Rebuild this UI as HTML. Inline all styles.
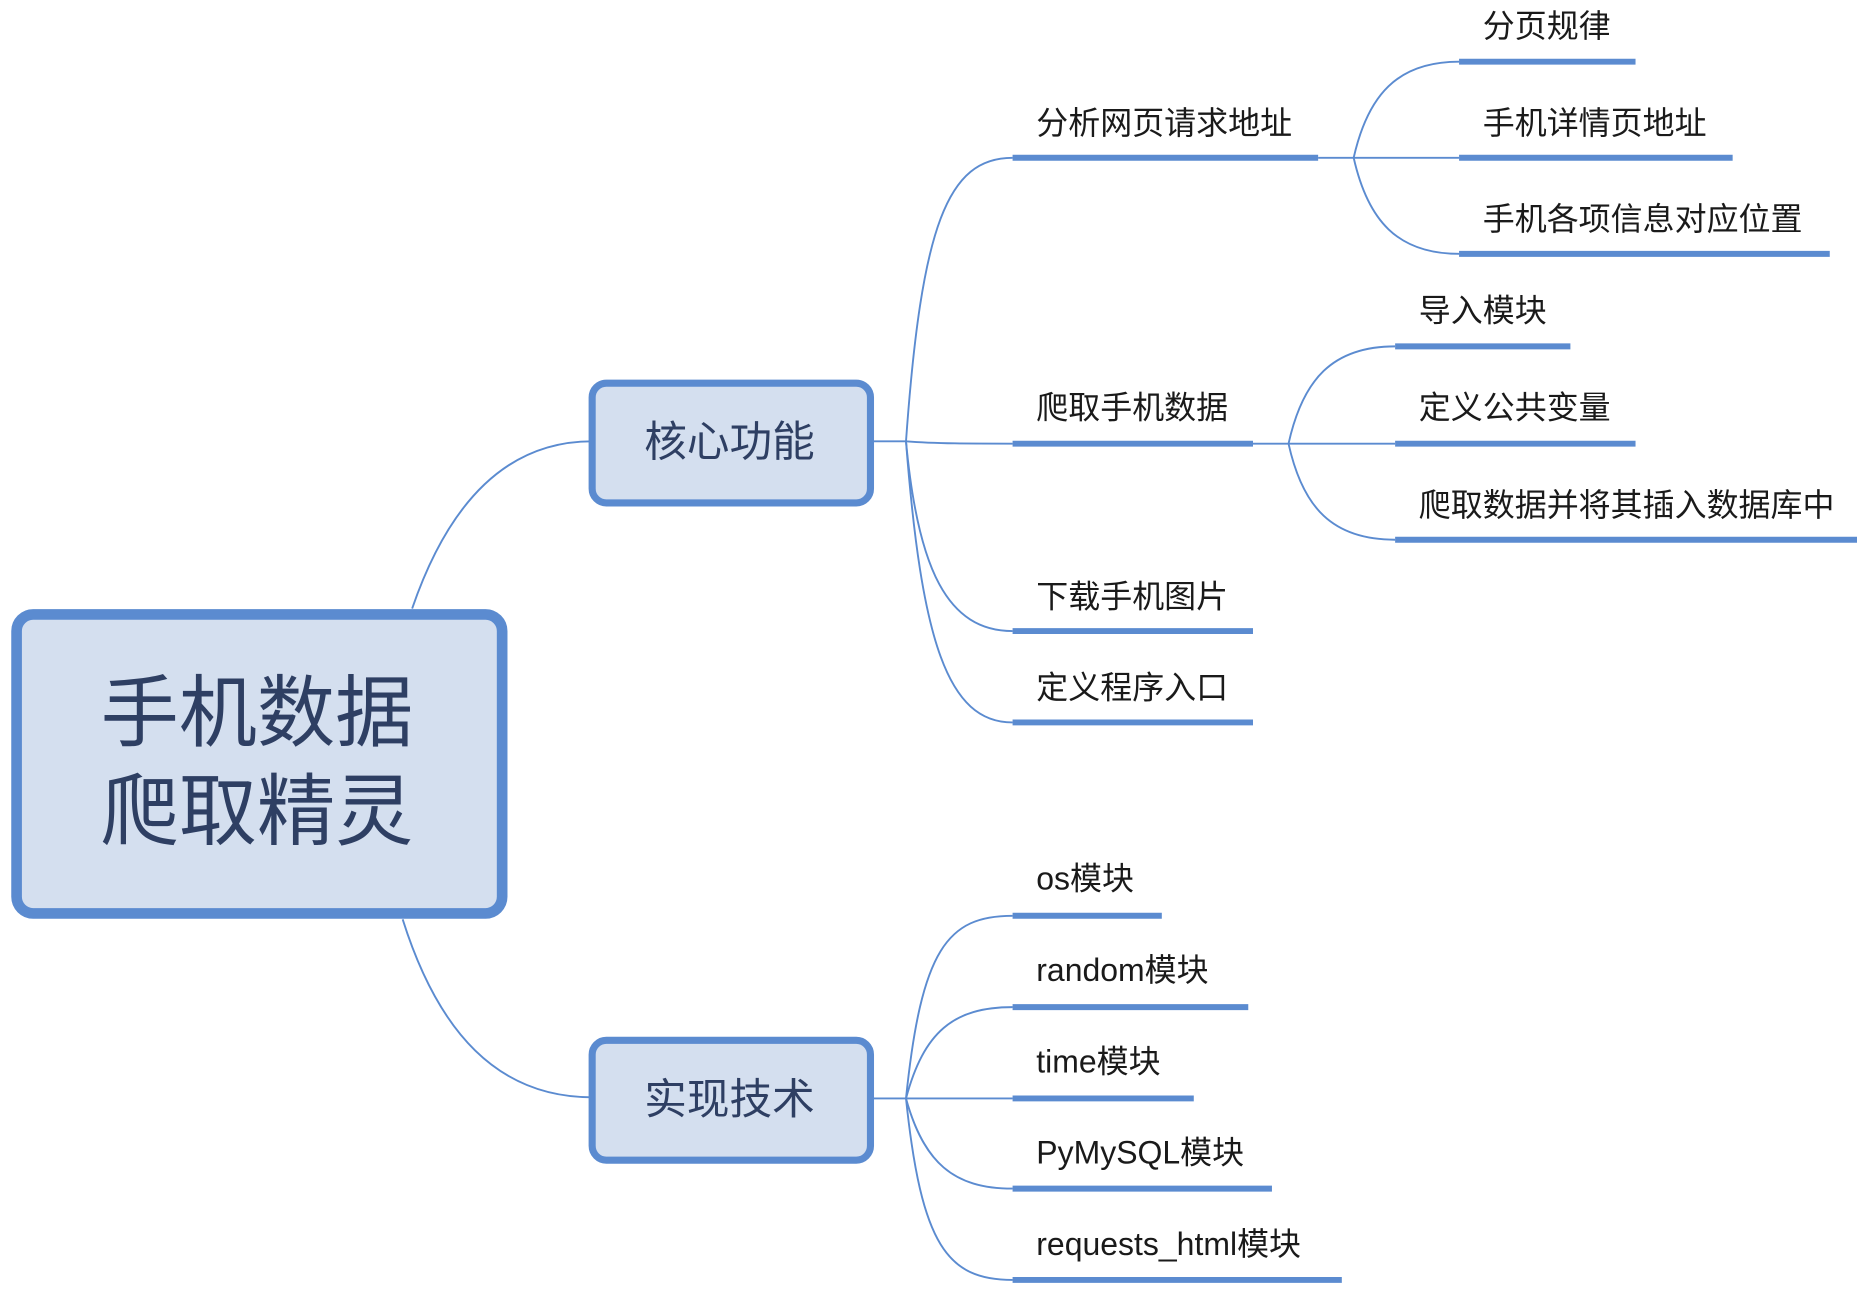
<!DOCTYPE html>
<html><head><meta charset="utf-8"><style>
html,body{margin:0;padding:0;background:#fff;}
svg{display:block;}
text{font-family:"Liberation Sans","Noto Sans CJK SC",sans-serif;}
</style></head><body>
<svg width="1857" height="1293" viewBox="0 0 1568 1090" preserveAspectRatio="none" xmlns="http://www.w3.org/2000/svg">
<g fill="none" stroke="#5b8bd0" stroke-width="1.6">
<path d="M348 513 C 380 420, 430 372, 500 372"/>
<path d="M340 775 C 370 870, 420 925, 500 925"/>
<path d="M737 372 L765 372"/>
<path d="M765 372 C 778 190, 800 133, 855 133"/>
<path d="M765 372 C 790 374, 820 374, 855 374"/>
<path d="M765 372 C 775 480, 800 532, 855 532"/>
<path d="M765 372 C 778 540, 800 609, 855 609"/>
<path d="M1113 133 L1143 133"/>
<path d="M1143 133 C 1155 80, 1180 52, 1232 52"/>
<path d="M1143 133 L1232 133"/>
<path d="M1143 133 C 1155 186, 1180 214, 1232 214"/>
<path d="M1058 374 L1088 374"/>
<path d="M1088 374 C 1100 320, 1125 292, 1178 292"/>
<path d="M1088 374 L1178 374"/>
<path d="M1088 374 C 1100 428, 1125 455, 1178 455"/>
<path d="M737 926 L765 926"/>
<path d="M765 926 C 778 800, 800 772, 855 772"/>
<path d="M765 926 C 780 870, 805 849, 855 849"/>
<path d="M765 926 L855 926"/>
<path d="M765 926 C 780 980, 805 1002, 855 1002"/>
<path d="M765 926 C 778 1050, 800 1079, 855 1079"/>
</g>
<g stroke="#5b8bd0" stroke-width="5">
<line x1="855" y1="133" x2="1113" y2="133"/>
<line x1="855" y1="374" x2="1058" y2="374"/>
<line x1="855" y1="532" x2="1058" y2="532"/>
<line x1="855" y1="609" x2="1058" y2="609"/>
<line x1="1232" y1="52" x2="1381" y2="52"/>
<line x1="1232" y1="133" x2="1463" y2="133"/>
<line x1="1232" y1="214" x2="1545" y2="214"/>
<line x1="1178" y1="292" x2="1326" y2="292"/>
<line x1="1178" y1="374" x2="1381" y2="374"/>
<line x1="1178" y1="455" x2="1568" y2="455"/>
<line x1="855" y1="772" x2="981" y2="772"/>
<line x1="855" y1="849" x2="1054" y2="849"/>
<line x1="855" y1="926" x2="1008" y2="926"/>
<line x1="855" y1="1002" x2="1074" y2="1002"/>
<line x1="855" y1="1079" x2="1133" y2="1079"/>
</g>
<rect x="14" y="518" width="410" height="252" rx="14" fill="#d4dfef" stroke="#5b8bd0" stroke-width="9"/>
<rect x="500" y="323" width="235" height="101" rx="12" fill="#d4dfef" stroke="#5b8bd0" stroke-width="6"/>
<rect x="500" y="877" width="235" height="101" rx="12" fill="#d4dfef" stroke="#5b8bd0" stroke-width="6"/>
<g fill="#2e3f63" text-anchor="middle">
<text x="217" y="624" font-size="66">手机数据</text>
<text x="217" y="707" font-size="66">爬取精灵</text>
<text x="616" y="385" font-size="36">核心功能</text>
<text x="616" y="939" font-size="36">实现技术</text>
</g>
<g fill="#1a1a1a" font-size="27">
<text x="875" y="113">分析网页请求地址</text>
<text x="875" y="353">爬取手机数据</text>
<text x="875" y="512">下载手机图片</text>
<text x="875" y="589">定义程序入口</text>
<text x="1252" y="31">分页规律</text>
<text x="1252" y="113">手机详情页地址</text>
<text x="1252" y="194">手机各项信息对应位置</text>
<text x="1198" y="271">导入模块</text>
<text x="1198" y="353">定义公共变量</text>
<text x="1198" y="435">爬取数据并将其插入数据库中</text>
<text x="875" y="750">os模块</text>
<text x="875" y="827">random模块</text>
<text x="875" y="904">time模块</text>
<text x="875" y="981">PyMySQL模块</text>
<text x="875" y="1058">requests_html模块</text>
</g>
</svg>
</body></html>
